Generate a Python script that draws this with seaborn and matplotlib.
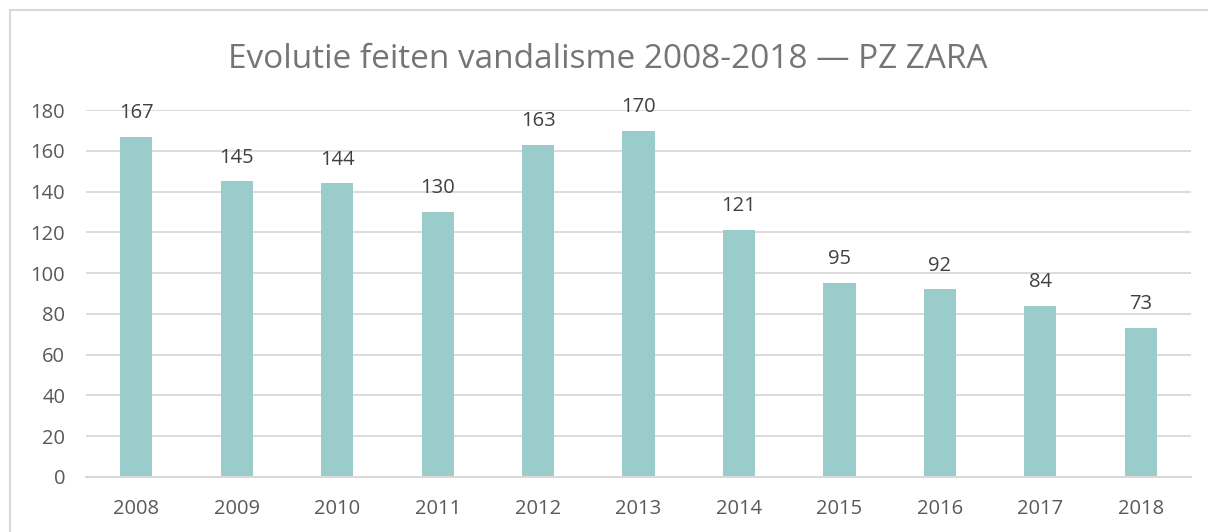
import matplotlib
matplotlib.use("Agg")
import matplotlib.pyplot as plt
import seaborn as sns
import pandas as pd
from matplotlib.patches import Rectangle

# gegevens
jaren = ["2008", "2009", "2010", "2011", "2012", "2013", "2014", "2015", "2016", "2017", "2018"]
feiten = [167, 145, 144, 130, 163, 170, 121, 95, 92, 84, 73]
titel = "Evolutie feiten vandalisme 2008-2018 \u2014 PZ ZARA"

df = pd.DataFrame({"jaar": jaren, "feiten": feiten})

sns.set_style("white")
plt.rcParams["font.family"] = ["Open Sans", "DejaVu Sans"]

fig = plt.figure(figsize=(12.08, 5.32), dpi=100)
ax = fig.add_axes([0.0712, 0.1034, 0.9148, 0.6896])

sns.barplot(data=df, x="jaar", y="feiten", color="#9BCCCC", saturation=1,
            width=0.32, linewidth=0, ax=ax, zorder=3)

ax.set_ylim(0, 180)
ax.set_yticks(range(0, 181, 20))
ax.set_xlim(-0.5, len(jaren) - 0.5)
ax.grid(axis="y", color="#D9D9D9", linewidth=1.3, zorder=0)
for s in ["top", "right", "left"]:
    ax.spines[s].set_visible(False)
ax.spines["bottom"].set_color("#D9D9D9")
ax.spines["bottom"].set_linewidth(1.5)
ax.spines["bottom"].set_zorder(4)
ax.tick_params(axis="both", length=0, labelsize=14.5, labelcolor="#595959")
ax.tick_params(axis="x", pad=16)
ax.tick_params(axis="y", pad=15)
ax.set_xlabel("")
ax.set_ylabel("")

# waardelabels boven de staven
for i, v in enumerate(feiten):
    ax.annotate(str(v), (i, v), xytext=(0, 10), textcoords="offset points",
                ha="center", va="bottom", fontsize=14.5, color="#404040",
                annotation_clip=False)

fig.text(0.503, 0.888, titel, ha="center", va="center", fontsize=24, color="#757575")

# kaderlijn van de grafiek
fig.patches.append(Rectangle((10 / 1208, -0.1), 1.2, 1 - 10 / 532 + 0.1,
                             transform=fig.transFigure, fill=False,
                             edgecolor="#D9D9D9", linewidth=1.5))

fig.savefig("out.png", dpi=100, facecolor="white")
